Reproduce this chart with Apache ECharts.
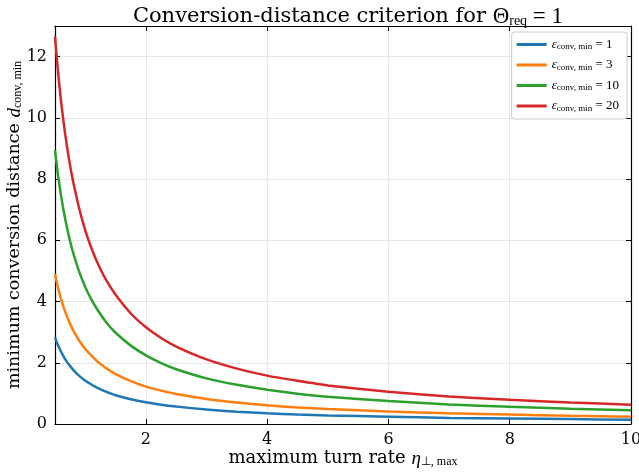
<!DOCTYPE html>
<html>
<head>
<meta charset="utf-8">
<script src="https://cdn.jsdelivr.net/npm/echarts@6/dist/echarts.min.js"></script>
<style>
  html, body { margin: 0; padding: 0; background: #fff; }
  #chart { width: 639px; height: 473px; }
</style>
</head>
<body>
<div id="chart"></div>
<script>
// values
const eta = [0.5, 0.55, 0.6, 0.65, 0.7, 0.75, 0.8, 0.9, 1.0, 1.1, 1.2, 1.35, 1.5, 1.75, 2, 2.25, 2.5, 3, 3.5, 4, 4.5, 5, 6, 7, 8, 9, 10];
const dEps1 = [2.83, 2.57, 2.36, 2.18, 2.02, 1.89, 1.77, 1.57, 1.41, 1.29, 1.18, 1.05, 0.94, 0.81, 0.71, 0.63, 0.57, 0.47, 0.40, 0.35, 0.31, 0.28, 0.24, 0.20, 0.18, 0.16, 0.14];
const dEps3 = [4.90, 4.45, 4.08, 3.77, 3.50, 3.27, 3.06, 2.72, 2.45, 2.23, 2.04, 1.81, 1.63, 1.40, 1.22, 1.09, 0.98, 0.82, 0.70, 0.61, 0.54, 0.49, 0.41, 0.35, 0.31, 0.27, 0.24];
const dEps10 = [8.94, 8.13, 7.45, 6.88, 6.39, 5.96, 5.59, 4.97, 4.47, 4.07, 3.73, 3.31, 2.98, 2.56, 2.24, 1.99, 1.79, 1.49, 1.28, 1.12, 0.99, 0.89, 0.75, 0.64, 0.56, 0.50, 0.45];
const dEps20 = [12.65, 11.50, 10.54, 9.73, 9.03, 8.43, 7.91, 7.03, 6.32, 5.75, 5.27, 4.68, 4.22, 3.61, 3.16, 2.81, 2.53, 2.11, 1.81, 1.58, 1.41, 1.26, 1.05, 0.90, 0.79, 0.70, 0.63];
const epsLabels = ['1', '3', '10', '20'];
const xTicks = [2, 4, 6, 8, 10];
const yTicks = [0, 2, 4, 6, 8, 10, 12];

const colors = ['#1f77b4', '#ff7f0e', '#2ca02c', '#d62728'];
const serif = 'DejaVu Serif';
const mathFont = 'Liberation Serif';

function pairs(ys) {
    return eta.map((x, i) => [x, ys[i]]);
}

function axisBase(show) {
    return {
        axisLine: {show: true, onZero: false, lineStyle: {color: '#000', width: 1.2}},
        axisTick: {show: true, inside: true, length: 5, lineStyle: {color: '#000', width: 1}},
        axisLabel: {show: show, color: '#000', fontFamily: serif, fontSize: 16, margin: 8},
        splitLine: {show: show, lineStyle: {color: '#e6e6e6', width: 1}}
    };
}

let xMain = axisBase(true);
xMain.axisTick.customValues = xTicks;
xMain.axisLabel.customValues = xTicks;
let xTop = axisBase(false);
xTop.axisTick.customValues = xTicks;
let yMain = axisBase(true);
yMain.axisTick.customValues = yTicks;
yMain.axisLabel.customValues = yTicks;
let yRight = axisBase(false);
yRight.axisTick.customValues = yTicks;

let myChart = echarts.init(document.getElementById('chart'));
const names = epsLabels.map(e => 'eps' + e);

myChart.setOption({
    animation: false,
    title: {
        text: '{t|Conversion-distance criterion for }{m|Θ}{s|req}{m| = 1}',
        left: 343,
        textAlign: 'center',
        top: 0,
        textStyle: {
            rich: {
                t: {fontFamily: serif, fontSize: 21, fontWeight: 'normal', color: '#000'},
                m: {fontFamily: mathFont, fontSize: 23, fontWeight: 'normal', color: '#000'},
                s: {fontFamily: mathFont, fontSize: 14, fontWeight: 'normal', color: '#000', verticalAlign: 'bottom', padding: [9, 0, 0, 0]}
            }
        }
    },
    grid: {left: 55, right: 8, top: 26, bottom: 49, outerBoundsMode: 'none'},
    legend: {
        data: names,
        orient: 'vertical',
        right: 12,
        top: 32,
        icon: 'rect',
        itemWidth: 30,
        itemHeight: 3,
        itemGap: 7,
        padding: [6, 8, 6, 5],
        backgroundColor: '#fff',
        borderColor: '#cccccc',
        borderWidth: 1,
        borderRadius: 3,
        formatter: function (n) {
            return '{e|ε}{s|conv, min}{r| = ' + n.slice(3) + '}';
        },
        textStyle: {
            rich: {
                e: {fontFamily: mathFont, fontStyle: 'italic', fontSize: 13, color: '#000'},
                r: {fontFamily: mathFont, fontSize: 13, color: '#000'},
                s: {fontFamily: mathFont, fontSize: 9, color: '#000', verticalAlign: 'bottom', padding: [5, 0, 0, 0]}
            }
        }
    },
    xAxis: [
        Object.assign({
            type: 'value', min: 0.5, max: 10, position: 'bottom',
            name: '{t|maximum turn rate }{i|η}{s|⊥, max}',
            nameLocation: 'middle',
            nameGap: 25,
            nameMoveOverlap: false,
            nameTextStyle: {
                rich: {
                    t: {fontFamily: serif, fontSize: 18, color: '#000'},
                    i: {fontFamily: mathFont, fontStyle: 'italic', fontSize: 19, color: '#000'},
                    s: {fontFamily: mathFont, fontSize: 12, color: '#000', verticalAlign: 'bottom', padding: [7, 0, 0, 0]}
                }
            }
        }, xMain),
        Object.assign({type: 'value', min: 0.5, max: 10, position: 'top'}, xTop)
    ],
    yAxis: [
        Object.assign({
            type: 'value', min: 0, max: 13, position: 'left',
            name: '{t|minimum conversion distance }{i|d}{s|conv, min}',
            nameLocation: 'middle',
            nameGap: 31,
            nameMoveOverlap: false,
            nameTextStyle: {
                rich: {
                    t: {fontFamily: serif, fontSize: 17.5, color: '#000'},
                    i: {fontFamily: mathFont, fontStyle: 'italic', fontSize: 19, color: '#000'},
                    s: {fontFamily: mathFont, fontSize: 12, color: '#000', verticalAlign: 'bottom', padding: [7, 0, 0, 0]}
                }
            }
        }, yMain),
        Object.assign({type: 'value', min: 0, max: 13, position: 'right'}, yRight)
    ],
    series: [dEps1, dEps3, dEps10, dEps20].map((ys, i) => ({
        name: names[i],
        type: 'line',
        data: pairs(ys),
        smooth: 0.2,
        showSymbol: false,
        color: colors[i],
        lineStyle: {width: 2.5, color: colors[i]}
    }))
});
</script>
</body>
</html>
